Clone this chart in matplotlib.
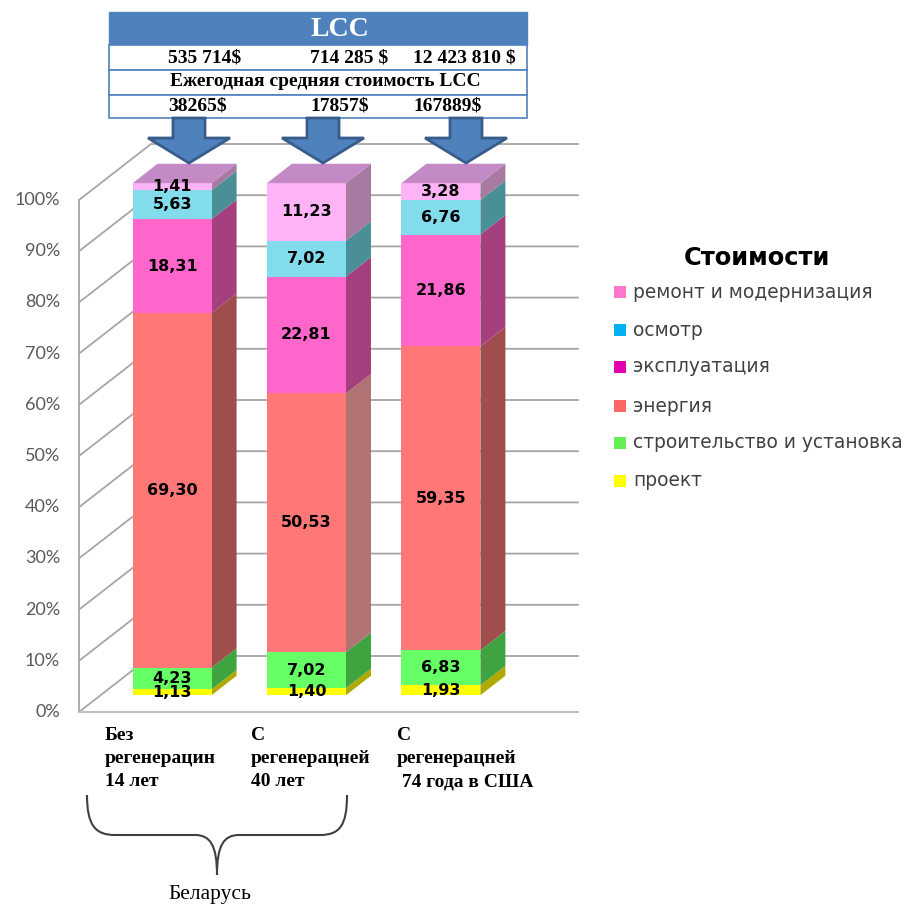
import matplotlib
matplotlib.use("Agg")
import matplotlib.pyplot as plt
from matplotlib.patches import Polygon, Rectangle, PathPatch
from matplotlib.path import Path

# ---- data -------------------------------------------------------------
categories = [
    "Без\nрегенерацин\n14 лет",
    "С\nрегенерацней\n40 лет",
    "С\nрегенерацней\n 74 года в США",
]
series_names = ["проект", "строительство и установка", "энергия",
                "эксплуатация", "осмотр", "ремонт и модернизация"]
proekt = [1.13, 1.40, 1.93]
stroitelstvo = [4.23, 7.02, 6.83]
energiya = [69.30, 50.53, 59.35]
ekspluataciya = [18.31, 22.81, 21.86]
osmotr = [5.63, 7.02, 6.76]
remont = [1.41, 11.23, 3.28]
series_values = [proekt, stroitelstvo, energiya, ekspluataciya, osmotr, remont]

lcc_total = ["535 714$", "714 285 $", "12 423 810 $"]
lcc_annual = ["38265$", "17857$", "167889$"]
y_ticks = [0, 10, 20, 30, 40, 50, 60, 70, 80, 90, 100]

# ---- styling ----------------------------------------------------------
front_colors = ["#FFFF00", "#66FF66", "#FF7777", "#FF66CC", "#82DCEC", "#FFB3F7"]
side_colors = ["#B0AA00", "#3FA33F", "#A04D4D", "#A5407F", "#4A8E96", "#A77AA2"]
energy_side_mid = "#B07272"   # middle bar's energy side is a lighter shade
top_color = "#C38AC5"
legend_colors = ["#FFFF00", "#66EE55", "#FF6666", "#E000B0", "#00B0F0", "#FF77CC"]

W, H = 905, 907
fig = plt.figure(figsize=(W / 100, H / 100), dpi=100)
fig.patch.set_facecolor("white")

# main 3D-looking axes: front plane of the wall
px_left, px_right, px_top, px_bot = 79, 506, 200, 712
ax = fig.add_axes([px_left / W, 1 - px_bot / H,
                   (px_right - px_left) / W, (px_bot - px_top) / H])
ax.set_axis_off()
x_lo, x_hi = -0.532, 2.645
ax.set_xlim(x_lo, x_hi)
ax.set_ylim(0, 100)

unit_px = (px_right - px_left) / (x_hi - x_lo)
pct_px = (px_bot - px_top) / 100.0
DX = 72 / unit_px          # wall depth, x units
DY = 56 / pct_px           # wall depth, percent units
z0, z1 = 0.30, 0.647       # bar front / back depth fraction
bar_w = 79 / unit_px

grid_col = "#A6A6A6"
# walls and gridlines
ax.plot([x_lo, x_lo], [0, 100], color=grid_col, lw=1.3, zorder=1, clip_on=False)
for t in y_ticks:
    ax.plot([x_lo, x_lo + DX, x_hi + DX], [t, t + DY, t + DY],
            color=grid_col, lw=1.3, zorder=1, clip_on=False)
    ax.text(x_lo - 19 / unit_px, t, f"{t}%", ha="right", va="center",
            fontsize=13, color="#595959", family="Lato")
ax.plot([x_lo, x_hi + DX], [0, 0], color="#C0C0C0", lw=1.5, zorder=1, clip_on=False)

# stacked 3D bars
for i in range(len(categories)):
    xl = i - bar_w / 2 + z0 * DX
    xr = xl + bar_w
    ddx = (z1 - z0) * DX
    ddy = (z1 - z0) * DY
    base = 0.0
    for s, vals in enumerate(series_values):
        v = vals[i]
        y0 = base + z0 * DY
        y1 = base + v + z0 * DY
        sc = energy_side_mid if (s == 2 and i == 1) else side_colors[s]
        side = Polygon([(xr, y0), (xr + ddx, y0 + ddy), (xr + ddx, y1 + ddy), (xr, y1)],
                       closed=True, facecolor=sc, edgecolor="none",
                       zorder=3, clip_on=False)
        ax.add_patch(side)
        ax.add_patch(Rectangle((xl, y0), bar_w, v, facecolor=front_colors[s],
                               edgecolor="none", zorder=4, clip_on=False))
        ax.text((xl + xr) / 2, (y0 + y1) / 2, f"{v:.2f}".replace(".", ","),
                ha="center", va="center", fontsize=11.5, fontweight="bold",
                color="black", zorder=6, family="DejaVu Sans")
        base += v
    ytop = base + z0 * DY
    ax.add_patch(Polygon([(xl, ytop), (xr, ytop), (xr + ddx, ytop + ddy),
                          (xl + ddx, ytop + ddy)], closed=True,
                         facecolor=top_color, edgecolor="none", zorder=4, clip_on=False))

# ---- overlay in pixel space for annotations ----------------------------
ov = fig.add_axes([0, 0, 1, 1])
ov.set_xlim(0, W)
ov.set_ylim(H, 0)
ov.set_axis_off()
ov.patch.set_alpha(0)

blue = "#4F81BD"
dark_blue = "#385D8A"
serif = "Liberation Serif"

# LCC table
ov.add_patch(Rectangle((109, 12), 418, 33, facecolor=blue, edgecolor=blue, lw=1))
ov.text(340, 29, "LCC", ha="center", va="center", fontsize=20, fontweight="bold",
        color="white", family=serif)
for (y0, h) in [(45, 25), (70, 25), (95, 23)]:
    ov.add_patch(Rectangle((109, y0), 418, h, facecolor="white", edgecolor=blue, lw=1.2))
col_x = [168, 310, 413]
for k in range(3):
    ov.text(col_x[k], 58, lcc_total[k], ha="left", va="center", fontsize=14,
            fontweight="bold", family=serif, color="black")
    ov.text(col_x[k], 106.5, lcc_annual[k], ha="left", va="center", fontsize=14,
            fontweight="bold", family=serif, color="black")
ov.text(325, 82, "Ежегодная средняя стоимость LCC", ha="center", va="center",
        fontsize=14, fontweight="bold", family=serif, color="black")

# block arrows
for cx in [189, 323, 466]:
    pts = [(cx - 16, 118), (cx + 16, 118), (cx + 16, 138), (cx + 41, 138),
           (cx, 163), (cx - 41, 138), (cx - 16, 138)]
    ov.add_patch(Polygon(pts, closed=True, facecolor=blue, edgecolor=dark_blue,
                         lw=2, zorder=5))

# category labels
lab_x = [105, 251, 397]
for k, lab in enumerate(categories):
    ov.text(lab_x[k], 727, lab, ha="left", va="top", fontsize=14,
            fontweight="bold", family=serif, color="black", linespacing=1.48)

# curly brace under the Belarus group
verts = [(87, 795), (87, 825), (95, 835), (115, 835),
         (195, 835),
         (210, 835), (217, 845), (217, 875),
         (217, 845), (224, 835), (239, 835),
         (320, 835),
         (340, 835), (347, 825), (347, 795)]
codes = [Path.MOVETO, Path.CURVE4, Path.CURVE4, Path.CURVE4,
         Path.LINETO,
         Path.CURVE4, Path.CURVE4, Path.CURVE4,
         Path.CURVE4, Path.CURVE4, Path.CURVE4,
         Path.LINETO,
         Path.CURVE4, Path.CURVE4, Path.CURVE4]
ov.add_patch(PathPatch(Path(verts, codes), facecolor="none", edgecolor="#404040", lw=1.5))
ov.text(210, 895, "Беларусь", ha="center", va="center", fontsize=15.5,
        family=serif, color="black")

# legend
ov.text(757, 258, "Стоимости", ha="center", va="center", fontsize=17.4,
        fontweight="bold", family="DejaVu Sans", color="black")
leg_y = [292, 330, 367, 406, 443, 481]
order = [5, 4, 3, 2, 1, 0]
for yy, s in zip(leg_y, order):
    ov.add_patch(Rectangle((614, yy - 6), 12, 12, facecolor=legend_colors[s],
                           edgecolor="none"))
    ov.text(633, yy, series_names[s], ha="left", va="center", fontsize=13.4,
            family="DejaVu Sans", color="#404040")

fig.savefig("out.png", dpi=100)
